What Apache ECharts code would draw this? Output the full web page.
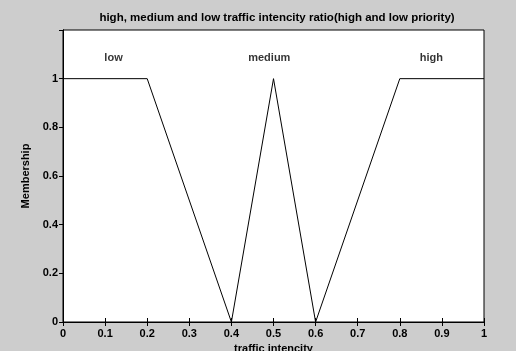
<!DOCTYPE html>
<html>
<head>
<meta charset="utf-8">
<script src="https://cdn.jsdelivr.net/npm/echarts@6/dist/echarts.min.js"></script>
<style>
  html, body { margin: 0; padding: 0; background: #cdcdcd; }
  #chart { width: 516px; height: 351px; }
</style>
</head>
<body>
<div id="chart"></div>
<script>
// membership functions
var lowPts = [[0, 1], [0.2, 1], [0.4, 0]]
var mediumPts = [[0.4, 0], [0.5, 1], [0.6, 0]]
var highPts = [[0.6, 0], [0.8, 1], [1, 1]]
var xTicks = [0, 0.1, 0.2, 0.3, 0.4, 0.5, 0.6, 0.7, 0.8, 0.9, 1]
var yTicks = [0, 0.2, 0.4, 0.6, 0.8, 1]
// label text and where it sits in data space
var setLabels = [
  {name: 'low', x: 0.12, y: 1.085},
  {name: 'medium', x: 0.49, y: 1.085},
  {name: 'high', x: 0.875, y: 1.085}
]

var myChart = echarts.init(document.getElementById('chart'))

var font = 'Liberation Sans, Arial, sans-serif'
var tickStyle = {show: true, inside: true, length: 4, lineStyle: {color: '#000'}}

function lineSeries(name, pts) {
  return {
    name: name,
    type: 'line',
    data: pts,
    showSymbol: false,
    lineStyle: {color: '#000', width: 1},
    animation: false
  }
}

myChart.setOption({
  backgroundColor: '#cdcdcd',
  title: {
    text: 'high, medium and low traffic intencity ratio(high and low priority)',
    left: 272,
    textAlign: 'center',
    top: 7,
    textStyle: {fontFamily: font, fontSize: 11.5, fontWeight: 'bold', color: '#000'}
  },
  grid: {
    left: 63, right: 32, top: 30, bottom: 29,
    outerBoundsMode: 'none', containLabel: false,
    show: true, backgroundColor: '#fff', borderColor: '#000', borderWidth: 1
  },
  xAxis: [{
    type: 'value', min: 0, max: 1, interval: 0.1,
    name: 'traffic intencity', nameLocation: 'middle', nameGap: 15,
    nameTextStyle: {fontFamily: font, fontSize: 11, fontWeight: 'bold', color: '#000'},
    axisLine: {show: true, lineStyle: {color: '#000'}},
    axisTick: tickStyle,
    splitLine: {show: false},
    axisLabel: {
      fontFamily: font, fontSize: 11, fontWeight: 'bold', color: '#000', margin: 6,
      formatter: function (v) {
        var r = Math.round(v * 10) / 10
        return xTicks.indexOf(r) >= 0 ? String(r) : ''
      }
    }
  }, {
    type: 'value', min: 0, max: 1, interval: 0.1, position: 'top',
    axisLine: {show: true, lineStyle: {color: '#000'}},
    axisTick: tickStyle,
    axisLabel: {show: false},
    splitLine: {show: false}
  }],
  yAxis: [{
    type: 'value', min: 0, max: 1.2, interval: 0.2,
    name: 'Membership', nameLocation: 'middle', nameGap: 22,
    nameTextStyle: {fontFamily: font, fontSize: 11, fontWeight: 'bold', color: '#000'},
    axisLine: {show: true, lineStyle: {color: '#000'}},
    axisTick: {show: true, inside: false, length: 3, lineStyle: {color: '#000'}},
    splitLine: {show: false},
    axisLabel: {
      fontFamily: font, fontSize: 11, fontWeight: 'bold', color: '#000', margin: 5,
      formatter: function (v) {
        var r = Math.round(v * 10) / 10
        return yTicks.indexOf(r) >= 0 ? String(r) : ''
      }
    }
  }, {
    type: 'value', min: 0, max: 1.2, interval: 0.2, position: 'right',
    axisLine: {show: true, lineStyle: {color: '#000'}},
    axisTick: tickStyle,
    axisLabel: {show: false},
    splitLine: {show: false}
  }],
  series: [
    lineSeries('low', lowPts),
    lineSeries('medium', mediumPts),
    lineSeries('high', highPts),
    {
      type: 'scatter',
      data: setLabels.map(function (d) { return {value: [d.x, d.y], name: d.name} }),
      symbolSize: 0,
      animation: false,
      label: {
        show: true, position: 'inside',
        formatter: function (p) { return p.name },
        fontFamily: font, fontSize: 11, fontWeight: 'bold', color: '#000'
      }
    }
  ]
})
</script>
</body>
</html>
